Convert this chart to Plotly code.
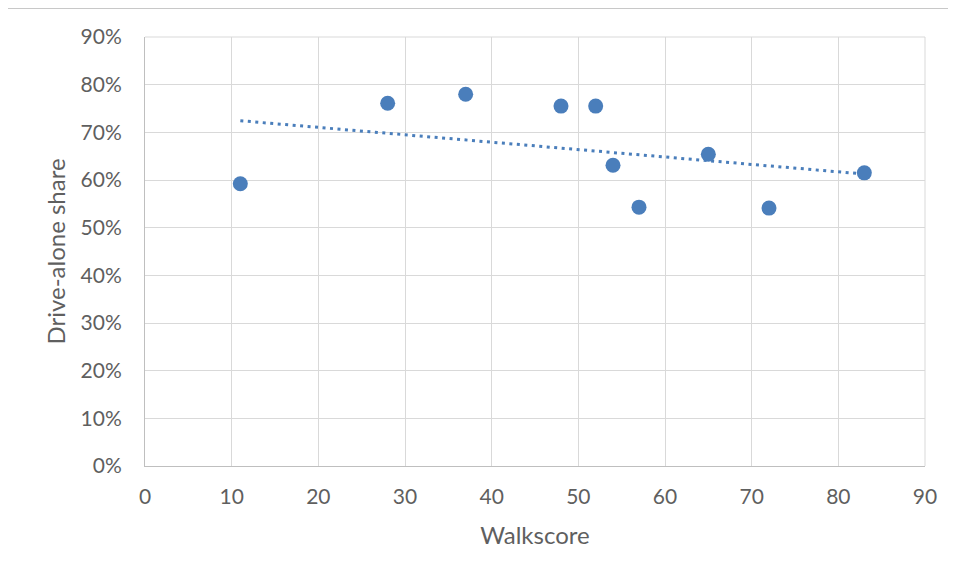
import numpy as np
import plotly.graph_objects as go

# walkscore vs drive-alone share
walkscore = [11, 28, 37, 48, 52, 54, 57, 65, 72, 83]
drive_alone = [0.592, 0.761, 0.780, 0.755, 0.755, 0.631, 0.543, 0.654, 0.541, 0.615]

x_ticks = list(range(0, 100, 10))
y_ticks = [i / 10 for i in range(10)]

blue = '#4a7ebb'
grey_text = '#5f5f5f'
font_family = 'Lato, "Open Sans", sans-serif'

# linear trendline, like Excel's
slope, intercept = np.polyfit(walkscore, drive_alone, 1)
trend_x = [min(walkscore), max(walkscore)]
trend_y = [slope * v + intercept for v in trend_x]

fig = go.Figure()

fig.add_trace(go.Scatter(
    x=trend_x, y=trend_y, mode='lines',
    line=dict(color=blue, width=3, dash='3px,4.5px'),
    hoverinfo='skip', showlegend=False
))

fig.add_trace(go.Scatter(
    x=walkscore, y=drive_alone, mode='markers',
    marker=dict(color=blue, size=15, line=dict(width=0)),
    showlegend=False
))

# page body has an 8px margin, so the figure is shrunk by that much
fig.update_layout(
    width=948,
    height=569,
    margin=dict(l=137, r=31, t=29, b=111),
    paper_bgcolor='white',
    plot_bgcolor='white',
    font=dict(family=font_family, color=grey_text, size=21),
    xaxis=dict(
        range=[0, 90],
        tickvals=x_ticks,
        showgrid=True, gridcolor='#d9d9d9', gridwidth=1,
        showline=True, linecolor='#bfbfbf', linewidth=1,
        zeroline=False,
        ticks='', ticklabelstandoff=12,
        title=dict(text='Walkscore', font=dict(size=24), standoff=19),
        tickfont=dict(size=21),
    ),
    yaxis=dict(
        range=[0, 0.9],
        tickvals=y_ticks,
        tickformat='.0%',
        showgrid=True, gridcolor='#d9d9d9', gridwidth=1,
        showline=True, linecolor='#bfbfbf', linewidth=1,
        zeroline=False,
        ticks='', ticklabelstandoff=18,
        title=dict(text='Drive-alone share', font=dict(size=24), standoff=8),
        tickfont=dict(size=21),
    ),
    shapes=[
        dict(type='line', xref='paper', yref='paper',
             x0=-0.3, x1=1.2, y0=1 + 28.5 / 429, y1=1 + 28.5 / 429,
             line=dict(color='#c8c8c8', width=1)),
        dict(type='line', xref='paper', yref='paper',
             x0=0, x1=1, y0=1, y1=1,
             line=dict(color='#d9d9d9', width=1)),
        dict(type='line', xref='paper', yref='paper',
             x0=1, x1=1, y0=0, y1=1,
             line=dict(color='#d9d9d9', width=1)),
    ],
)

fig.write_html("out.html")
